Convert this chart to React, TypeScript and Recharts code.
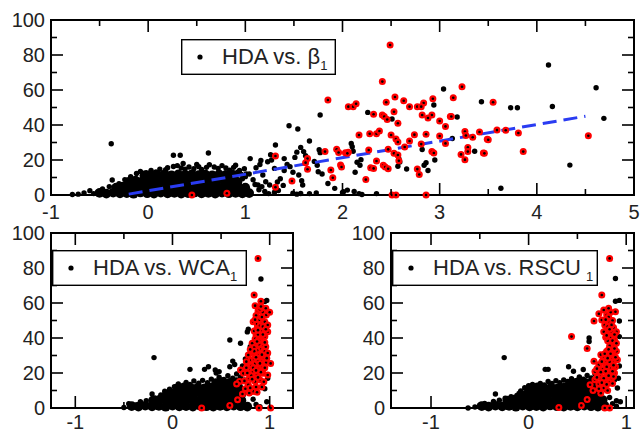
import React from 'react';
import { ScatterChart, Scatter, XAxis, YAxis, ReferenceArea } from 'recharts';

type Pt = [number, number];

// HDA vs. beta1 (top panel)
const betaCore: Pt[] = [
  [-0.5, 1.2], [-0.43, 0.8], [-0.36, 1.3], [-0.29, 0.9], [-0.22, 1.1], [-0.15, 0.7], [-0.08, 1.4], [-0.01, 1.0],
  [0.06, 0.8], [0.13, 1.3], [0.2, 0.9], [0.27, 1.2], [0.34, 0.8], [0.41, 1.1], [0.48, 1.4], [0.55, 0.9],
  [0.62, 1.2], [0.69, 0.8], [0.76, 1.3], [0.83, 1.0], [0.9, 1.2], [0.97, 0.9], [1.04, 1.1],
  [-0.33, 4.2], [-0.26, 4.8], [-0.19, 4.4], [-0.12, 4.9], [-0.05, 4.3], [0.02, 4.7], [0.09, 4.5], [0.16, 4.9],
  [0.23, 4.3], [0.3, 4.6], [0.37, 4.8], [0.44, 4.4], [0.51, 4.7], [0.58, 4.5], [0.65, 4.9], [0.72, 4.3],
  [0.79, 4.6], [0.86, 4.8], [0.93, 4.4], [1.0, 4.2],
  [-0.2, 7.6], [-0.13, 8.2], [-0.06, 7.9], [0.01, 8.3], [0.08, 7.8], [0.15, 8.1], [0.22, 8.4], [0.29, 7.7],
  [0.36, 8.0], [0.43, 8.3], [0.5, 7.9], [0.57, 8.2], [0.64, 7.8], [0.71, 8.1], [0.78, 8.4], [0.85, 7.9], [0.92, 7.5],
  [-0.04, 11.2], [0.03, 11.7], [0.1, 11.4], [0.17, 11.9], [0.24, 11.3], [0.31, 11.8], [0.38, 11.5], [0.45, 11.9],
  [0.52, 11.4], [0.59, 11.7], [0.66, 11.3], [0.73, 11.8], [0.8, 11.5], [0.87, 11.1],
];
const betaBlack: Pt[] = [
  [-0.78, 0.3], [-0.72, 0.5], [-0.66, 1.2], [-0.6, 2.5], [-0.56, 0.8], [-0.52, 1.8], [-0.47, 3.4], [-0.4, 4.8],
  [-0.37, 8.6], [-0.3, 6.5], [-0.24, 8.8], [-0.18, 10.5], [-0.12, 12.3], [-0.08, 13.5], [-0.02, 12.8], [0.03, 14.0],
  [0.08, 13.2], [0.12, 14.8], [0.18, 14.5], [0.2, 15.6], [0.26, 16.3], [0.3, 16.8], [0.34, 15.4], [0.38, 14.8],
  [0.42, 16.0], [0.47, 15.0], [0.52, 16.2], [0.55, 14.6], [0.6, 15.8], [0.63, 17.3], [0.68, 16.0], [0.72, 15.2],
  [0.76, 16.8], [0.8, 15.5], [0.84, 14.2], [0.88, 15.8], [0.92, 13.0], [0.96, 11.8], [1.0, 10.5], [1.04, 12.0],
  [1.08, 8.7], [1.1, 6.0], [1.14, 3.0], [1.2, 2.0], [1.24, 0.8], [1.3, 1.6], [0.9, 17.0], [0.5, 17.5], [0.36, 18.0],
  [-0.38, 29.3], [0.26, 22.7], [0.33, 22.7], [0.62, 24.0],
  [1.77, 45.7], [1.45, 39.6], [1.54, 37.7], [1.66, 30.9], [1.31, 28.6], [1.57, 27.2], [1.53, 24.5], [1.51, 21.5],
  [1.6, 24.8], [1.62, 22.5], [1.05, 20.8], [1.16, 19.7], [1.15, 17.4], [1.11, 15.6], [1.26, 23.0], [1.27, 20.0],
  [1.23, 19.0], [1.3, 15.2], [1.4, 20.8], [1.43, 17.4], [1.4, 14.0], [1.71, 19.2], [1.74, 17.0], [1.75, 13.3],
  [1.76, 25.9], [1.77, 24.2], [1.79, 12.0], [1.85, 6.6], [1.92, 3.8], [2.01, 1.9], [1.46, 16.2], [1.49, 13.0],
  [1.55, 11.4], [1.58, 8.2], [1.59, 5.7], [1.36, 9.3], [1.33, 7.4], [1.39, 5.5], [1.34, 2.6], [1.49, 1.0],
  [1.53, 0.5], [1.57, 0.9], [1.66, 0.8], [1.73, 1.2], [1.18, 11.4], [1.21, 7.6], [1.25, 5.7], [1.17, 4.8],
  [1.13, 5.7], [0.99, 15.0], [1.01, 12.0], [0.97, 9.3], [0.94, 14.0], [0.87, 13.0], [0.9, 10.0],
  [3.04, 60.6], [2.94, 51.4], [3.43, 53.3], [2.26, 47.2], [2.51, 43.4], [3.18, 44.6], [2.09, 29.5], [2.1, 27.6],
  [2.11, 25.0], [2.19, 20.2], [2.15, 18.7], [2.13, 13.0], [2.58, 20.8], [2.59, 18.9], [2.57, 16.4], [2.82, 26.0],
  [2.86, 18.5], [2.84, 17.0], [2.88, 14.0], [2.66, 14.9], [2.95, 20.0], [3.36, 25.0], [3.13, 32.3], [2.18, 17.0],
  [2.0, 1.5], [2.05, 2.8], [2.12, 2.0], [2.17, 0.8], [2.2, 0.3], [2.35, 0.8],
  [4.12, 74.3], [4.61, 61.3], [3.73, 49.9], [3.8, 49.9], [4.16, 50.6], [4.69, 43.8], [4.34, 17.1], [3.63, 3.9],
];
const betaRed: Pt[] = [
  [1.85, 54.3], [2.06, 50.5], [2.11, 50.5], [2.14, 52.1], [1.82, 24.8], [1.94, 26.1], [1.96, 24.3], [2.03, 24.1],
  [2.06, 24.5], [1.64, 20.8], [1.62, 18.5], [1.64, 14.7], [1.88, 14.3], [1.9, 9.9], [1.98, 17.1], [1.48, 8.0],
  [1.31, 22.3], [1.31, 4.5], [0.81, 1.0], [0.45, 0.0],
  [2.49, 85.7], [2.41, 64.8], [3.23, 61.9], [2.54, 56.0], [3.14, 55.6], [2.93, 55.0], [2.63, 53.9], [2.45, 53.0],
  [2.835, 52.6], [2.69, 50.5], [2.77, 50.5], [2.81, 50.5], [2.53, 47.6], [2.32, 46.1], [2.41, 45.7], [2.43, 44.8],
  [2.46, 43.1], [2.82, 45.7], [2.92, 45.7], [2.88, 44.0], [2.57, 41.0], [3.0, 42.3], [3.11, 44.9], [3.12, 44.9],
  [3.06, 39.2], [2.17, 34.3], [2.28, 35.0], [2.35, 35.0], [2.38, 36.6], [2.5, 34.3], [2.55, 32.0], [2.57, 30.3],
  [2.69, 30.9], [2.74, 34.5], [2.86, 34.7], [3.0, 33.7], [3.06, 29.5], [3.26, 36.3], [3.27, 34.0], [3.41, 36.0],
  [3.34, 33.0], [3.49, 31.8], [2.27, 25.7], [2.47, 26.1], [2.53, 23.8], [2.57, 22.9], [2.58, 19.6], [2.64, 27.4],
  [2.81, 29.1], [2.92, 24.8], [2.94, 24.0], [3.22, 23.2], [3.29, 27.2], [3.29, 24.8], [3.26, 20.2], [3.45, 24.0],
  [2.05, 23.8], [2.29, 15.6], [2.32, 15.2], [2.35, 19.4], [2.42, 17.0], [2.44, 16.0], [2.47, 15.0], [2.77, 14.8],
  [2.79, 11.7], [2.24, 8.8], [2.51, 0.0], [2.55, 0.0], [2.86, 0.0], [1.99, 16.0],
  [3.55, 53.0], [3.59, 37.1], [3.68, 37.0], [3.81, 35.4], [3.5, 31.6], [3.46, 23.8], [3.86, 24.8], [4.53, 33.9],
];
const betaFit: Pt[] = [[-0.2, 0.5], [4.5, 45.0]];

// HDA vs. WCA1 (bottom left)
const wcaCore: Pt[] = [
  [-0.42, 1.1], [-0.35, 0.8], [-0.28, 1.3], [-0.21, 0.9], [-0.14, 1.2], [-0.07, 0.7], [0.0, 1.3], [0.07, 0.9],
  [0.14, 1.1], [0.21, 0.8], [0.28, 1.4], [0.35, 1.0], [0.42, 0.8], [0.49, 1.2], [0.56, 0.9], [0.63, 1.3],
  [0.7, 1.0], [0.77, 0.8],
  [-0.2, 4.3], [-0.13, 4.8], [-0.06, 4.4], [0.01, 4.7], [0.08, 4.2], [0.15, 4.9], [0.22, 4.5], [0.29, 4.3],
  [0.36, 4.8], [0.43, 4.4], [0.5, 4.7], [0.57, 4.5], [0.64, 4.9], [0.71, 4.3],
  [-0.06, 7.7], [0.01, 8.3], [0.08, 7.9], [0.15, 8.2], [0.22, 7.8], [0.29, 8.4], [0.36, 7.9], [0.43, 8.2],
  [0.5, 7.7], [0.57, 8.3], [0.64, 8.0], [0.71, 7.8],
  [0.05, 11.2], [0.12, 11.8], [0.19, 11.4], [0.26, 11.7], [0.33, 11.3], [0.4, 11.9], [0.47, 11.5], [0.54, 11.8],
  [0.61, 11.4], [0.68, 11.6],
  [0.45, 14.3], [0.52, 14.8], [0.59, 14.4], [0.66, 14.9],
];
const wcaBlack: Pt[] = [
  [-0.5, 0.3], [-0.45, 2.4], [-0.38, 1.8], [-0.33, 3.6], [-0.27, 4.2], [-0.21, 8.0], [-0.18, 5.8], [-0.12, 7.5],
  [-0.08, 9.6], [-0.03, 10.8], [0.02, 12.2], [0.06, 13.8], [0.1, 12.6], [0.14, 14.6], [0.18, 13.4], [0.22, 15.5],
  [0.27, 14.2], [0.31, 15.8], [0.36, 14.4], [0.4, 16.5], [0.44, 15.2], [0.48, 17.6], [0.53, 16.3], [0.57, 18.4],
  [0.62, 17.0], [0.66, 19.5], [0.7, 17.8], [0.74, 16.0], [0.78, 13.0], [0.8, 9.0], [0.83, 5.0], [0.86, 2.0],
  [0.9, 0.8], [0.97, 3.6], [0.95, 11.0], [0.98, 17.0],
  [-0.19, 28.8], [0.18, 22.1], [0.33, 22.1], [0.37, 23.6], [0.45, 20.0], [0.48, 20.8], [0.44, 21.7], [0.59, 23.6],
  [0.62, 26.8], [0.64, 24.9], [0.59, 38.9], [0.7, 37.0], [0.78, 45.0], [0.77, 43.5], [0.91, 73.7], [0.95, 60.8],
  [0.97, 61.5], [0.93, 50.0], [0.94, 45.5], [0.87, 47.5], [0.8, 35.0], [0.75, 28.0], [0.72, 24.0], [0.88, 16.0],
  [0.92, 23.0],
];
const wcaRed: Pt[] = [
  [0.88, 85.5], [0.84, 64.6], [0.91, 61.0], [0.88, 55.4], [0.93, 54.7], [0.86, 52.9], [0.965, 53.1], [1.0, 54.7],
  [0.89, 50.3], [0.95, 49.3], [0.83, 49.3], [0.98, 47.4], [0.87, 45.5], [0.91, 44.0], [0.86, 41.7], [0.9, 38.9],
  [0.95, 40.8], [0.98, 43.6], [0.86, 36.0], [0.9, 34.0], [0.83, 31.4], [0.95, 32.4], [0.98, 31.4], [0.88, 30.2],
  [0.78, 30.3], [0.81, 27.4], [0.76, 26.5], [0.85, 25.5], [0.91, 27.4], [0.965, 26.1], [1.01, 25.5], [0.79, 22.6],
  [0.83, 20.8], [0.88, 22.3], [0.93, 19.8], [0.98, 18.9], [0.7, 21.7], [0.73, 19.8], [0.79, 17.0], [0.85, 15.2],
  [0.78, 13.3], [0.83, 9.5], [0.79, 8.6], [0.69, 15.2], [0.66, 13.7], [0.67, 4.7], [0.59, 1.5], [0.89, 0.0],
  [1.01, 0.0], [0.3, 0.0], [0.87, 48.0], [0.9, 47.0], [0.84, 44.0], [0.88, 42.0], [0.92, 36.0], [0.87, 33.0],
  [0.84, 28.0], [0.88, 27.0], [0.92, 24.0], [0.87, 19.0], [0.81, 24.0], [0.76, 23.0], [0.9, 16.0], [0.86, 12.0],
  [0.82, 37.0], [0.94, 29.0], [0.89, 38.5], [0.84, 34.5], [0.92, 52.0], [0.96, 57.0], [0.9, 56.5], [0.81, 18.5],
  [0.75, 11.0], [0.72, 8.0],
  [0.85, 50.5], [0.93, 46.5], [0.88, 44.5], [0.85, 39.5], [0.93, 42.0], [0.89, 36.5], [0.96, 35.0], [0.84, 32.5],
  [0.92, 30.5], [0.86, 29.0], [0.97, 28.5], [0.9, 25.5], [0.83, 23.0], [0.95, 23.0], [0.86, 21.5], [0.91, 20.5],
  [0.77, 20.0], [0.82, 16.5], [0.88, 17.5], [0.94, 15.0], [0.8, 11.5], [0.87, 9.0], [0.92, 12.0], [0.74, 15.5],
  [0.96, 45.0], [0.91, 58.0], [0.85, 58.5], [0.95, 37.5], [0.8, 33.5], [0.87, 38.0],
];

// HDA vs. RSCU1 (bottom right)
const rscuCore: Pt[] = [
  [-0.48, 1.1], [-0.41, 0.8], [-0.34, 1.3], [-0.27, 0.9], [-0.2, 1.2], [-0.13, 0.7], [-0.06, 1.3], [0.01, 0.9],
  [0.08, 1.1], [0.15, 0.8], [0.22, 1.4], [0.29, 1.0], [0.36, 0.8], [0.43, 1.2], [0.5, 0.9], [0.57, 1.3],
  [0.64, 1.0], [0.71, 0.8], [0.78, 1.2],
  [-0.22, 4.3], [-0.15, 4.8], [-0.08, 4.4], [-0.01, 4.7], [0.06, 4.2], [0.13, 4.9], [0.2, 4.5], [0.27, 4.3],
  [0.34, 4.8], [0.41, 4.4], [0.48, 4.7], [0.55, 4.5], [0.62, 4.9], [0.69, 4.3], [0.76, 4.6],
  [-0.08, 7.7], [-0.01, 8.3], [0.06, 7.9], [0.13, 8.2], [0.2, 7.8], [0.27, 8.4], [0.34, 7.9], [0.41, 8.2],
  [0.48, 7.7], [0.55, 8.3], [0.62, 8.0], [0.69, 7.8],
  [0.02, 11.2], [0.09, 11.8], [0.16, 11.4], [0.23, 11.7], [0.3, 11.3], [0.37, 11.9], [0.44, 11.5], [0.51, 11.8],
  [0.58, 11.4], [0.65, 11.6],
  [0.44, 14.3], [0.51, 14.8], [0.58, 14.4], [0.65, 14.9],
];
const rscuBlack: Pt[] = [
  [-0.55, 0.6], [-0.5, 1.8], [-0.45, 2.6], [-0.4, 1.5], [-0.36, 3.8], [-0.3, 4.4], [-0.24, 5.6], [-0.18, 6.4],
  [-0.12, 7.2], [-0.08, 9.8], [-0.04, 11.6], [0.0, 12.8], [0.04, 13.4], [0.08, 12.2], [0.12, 14.0], [0.16, 13.2],
  [0.2, 15.2], [0.24, 14.0], [0.28, 15.6], [0.32, 14.4], [0.36, 16.0], [0.4, 15.2], [0.44, 16.8], [0.48, 15.6],
  [0.52, 17.8], [0.56, 16.4], [0.6, 18.6], [0.64, 17.2], [0.68, 19.4], [0.72, 17.4], [0.76, 15.0], [0.8, 10.0],
  [0.83, 6.0], [0.86, 2.5], [0.9, 1.0], [0.94, 3.6], [0.88, 16.0], [0.93, 24.0],
  [-0.62, 0.0], [-0.34, 8.0], [-0.25, 28.8], [0.17, 22.1], [0.2, 22.1], [0.41, 23.6], [0.46, 21.0], [0.56, 22.0],
  [0.62, 38.0], [0.62, 40.0], [0.89, 74.0], [0.89, 61.0], [0.93, 61.5], [0.91, 11.4], [0.9, 4.2], [0.92, 17.0],
  [0.93, 49.7], [0.93, 40.8],
];
const rscuRed: Pt[] = [
  [0.83, 85.5], [0.75, 64.6], [0.84, 54.7], [0.89, 55.0], [0.72, 53.8], [0.8, 53.1], [0.75, 50.3], [0.83, 49.3],
  [0.67, 49.7], [0.78, 47.4], [0.8, 44.6], [0.85, 43.6], [0.77, 43.6], [0.9, 43.6], [0.44, 40.8], [0.6, 34.0],
  [0.84, 37.0], [0.87, 35.0], [0.8, 32.4], [0.9, 32.4], [0.76, 29.5], [0.84, 28.6], [0.91, 27.6], [0.67, 26.7],
  [0.72, 24.7], [0.78, 25.7], [0.84, 22.6], [0.89, 23.6], [0.68, 20.8], [0.73, 18.9], [0.8, 18.0], [0.85, 17.0],
  [0.68, 16.2], [0.72, 13.7], [0.77, 11.4], [0.63, 13.3], [0.6, 4.8], [0.54, 1.5], [0.31, 0.3], [0.78, 0.0],
  [0.83, 0.0], [0.82, 52.0], [0.86, 50.0], [0.81, 46.5], [0.84, 40.0], [0.81, 38.5], [0.86, 33.0], [0.82, 30.5],
  [0.87, 30.0], [0.8, 27.0], [0.86, 26.0], [0.76, 22.0], [0.82, 20.5], [0.88, 20.0], [0.78, 15.5], [0.83, 14.5],
  [0.7, 22.5], [0.74, 30.5], [0.87, 46.0], [0.79, 40.5], [0.83, 35.5], [0.88, 39.0], [0.8, 23.5], [0.66, 10.0],
  [0.74, 8.5],
  [0.79, 50.5], [0.85, 47.5], [0.83, 45.0], [0.88, 42.0], [0.8, 41.5], [0.86, 38.5], [0.82, 33.5], [0.88, 34.0],
  [0.78, 31.0], [0.84, 31.0], [0.89, 29.0], [0.83, 26.5], [0.75, 26.5], [0.87, 24.5], [0.79, 21.0], [0.86, 21.0],
  [0.74, 20.5], [0.82, 18.5], [0.77, 17.0], [0.87, 18.0], [0.75, 14.5], [0.8, 13.5], [0.86, 14.0], [0.7, 17.5],
  [0.72, 11.0], [0.81, 10.0], [0.77, 56.0], [0.82, 57.0], [0.9, 37.0], [0.81, 28.5],
];

const Y_TICKS = [0, 10, 20, 30, 40, 50, 60, 70, 80, 90, 100];
const BETA_TICKS = [-1, -0.5, 0, 0.5, 1, 1.5, 2, 2.5, 3, 3.5, 4, 4.5, 5];
const SMALL_TICKS = [-1, -0.5, 0, 0.5, 1];

const FONT = '"Liberation Sans", Arial, sans-serif';
const TXT = '#222';
const Y_AXIS_W = 45;

const toXY = (pts: Pt[]) => pts.map(([x, y]) => ({ x, y }));

const dot = (r: number) => (p: any) => <circle cx={p.cx} cy={p.cy} r={r} fill="#000" />;
const redDot = (p: any) => (
  <g>
    <circle cx={p.cx} cy={p.cy} r={3.5} fill="#ff0000" />
    <circle cx={p.cx} cy={p.cy} r={1.3} fill="#000" />
  </g>
);

const isMajorX = (v: number) => Number.isInteger(v);
const isMajorY = (v: number) => v % 20 === 0;

interface PanelProps {
  left: number;
  top: number;
  width: number;
  height: number;
  margin: { top: number; right: number; bottom: number; left: number };
  xAxisH: number;
  labelGap: number;
  xDomain: [number, number];
  xTicks: number[];
  core: Pt[];
  black: Pt[];
  red: Pt[];
  fit?: Pt[];
}

const Panel = ({ left, top, width, height, margin, xAxisH, labelGap, xDomain, xTicks, core, black, red, fit }: PanelProps) => {
  const plotW = width - margin.left - margin.right - Y_AXIS_W;
  const plotH = height - margin.top - margin.bottom - xAxisH;
  const plotL = margin.left + Y_AXIS_W;
  const plotT = margin.top;
  const [x0, x1] = xDomain;

  const xLabel = (p: any) => {
    const v = p.payload.value;
    if (!isMajorX(v)) return <g />;
    return (
      <text x={p.x} y={p.y + labelGap} dy="0.36em" textAnchor="middle" fontSize={20} fontFamily={FONT} fill={TXT}>
        {String(v)}
      </text>
    );
  };
  const yLabel = (p: any) => {
    const v = p.payload.value;
    if (!isMajorY(v)) return <g />;
    return (
      <text x={p.x - 6} y={p.y} dy="0.36em" textAnchor="end" fontSize={20} fontFamily={FONT} fill={TXT}>
        {String(v)}
      </text>
    );
  };

  // inward tick marks on the frame (overlay in plot-area pixels)
  const px = (v: number) => ((v - x0) / (x1 - x0)) * plotW;
  const py = (v: number) => plotH - (v / 100) * plotH;

  return (
    <div style={{ position: 'absolute', left, top, width, height }}>
      <ScatterChart width={width} height={height} margin={margin}>
        <XAxis
          type="number"
          dataKey="x"
          domain={xDomain}
          ticks={xTicks}
          interval={0}
          tickSize={0}
          tickMargin={0}
          axisLine={false}
          tickLine={false}
          tick={xLabel}
          height={xAxisH}
        />
        <YAxis
          type="number"
          dataKey="y"
          domain={[0, 100]}
          ticks={Y_TICKS}
          interval={0}
          tickSize={0}
          tickMargin={0}
          axisLine={false}
          tickLine={false}
          tick={yLabel}
          width={Y_AXIS_W}
        />
        <ReferenceArea
          x1={x0}
          x2={x1}
          y1={0}
          y2={100}
          fill="none"
          fillOpacity={0}
          stroke="#000"
          strokeWidth={2}
          ifOverflow="visible"
        />
        <Scatter data={toXY(core)} shape={dot(4.8)} isAnimationActive={false} />
        <Scatter data={toXY(black)} shape={dot(2.7)} isAnimationActive={false} />
        {fit && (
          <Scatter
            data={toXY(fit)}
            line={{ stroke: '#2a3cf2', strokeWidth: 3, strokeDasharray: '14 7' }}
            lineType="joint"
            shape={() => <g />}
            isAnimationActive={false}
          />
        )}
        <Scatter data={toXY(red)} shape={redDot} isAnimationActive={false} />
      </ScatterChart>
      <svg
        style={{ position: 'absolute', left: plotL, top: plotT, overflow: 'visible', pointerEvents: 'none' }}
        width={plotW}
        height={plotH}
      >
        {xTicks.map((v) => {
          const len = isMajorX(v) ? 12 : 6;
          return (
            <g key={`x${v}`} stroke="#000" strokeWidth={1.6}>
              <line x1={px(v)} y1={plotH} x2={px(v)} y2={plotH - len} />
              <line x1={px(v)} y1={0} x2={px(v)} y2={len} />
            </g>
          );
        })}
        {Y_TICKS.map((v) => {
          const len = isMajorY(v) ? 12 : 6;
          return (
            <g key={`y${v}`} stroke="#000" strokeWidth={1.6}>
              <line x1={0} y1={py(v)} x2={len} y2={py(v)} />
              <line x1={plotW} y1={py(v)} x2={plotW - len} y2={py(v)} />
            </g>
          );
        })}
      </svg>
    </div>
  );
};

const LegendBox = ({ left, top, width, label, sub, gap = 0 }: { left: number; top: number; width: number; label: string; sub: string; gap?: number }) => (
  <svg style={{ position: 'absolute', left, top, overflow: 'visible' }} width={width} height={36}>
    <rect x={0.7} y={0.7} width={width - 1.4} height={34.6} fill="#fff" stroke="#000" strokeWidth={1.4} />
    <circle cx={19} cy={18} r={2.6} fill="#000" />
    <text x={41} y={24.5} fontSize={22} fontFamily={FONT} fill={TXT}>
      {label}
      <tspan dx={gap} dy={6} fontSize={13}>{sub}</tspan>
    </text>
  </svg>
);

export default function App() {
  return (
    <div style={{ position: 'absolute', left: 0, top: 0, width: 641, height: 432, background: '#fff', fontFamily: FONT }}>
      <Panel
        left={0}
        top={0}
        width={641}
        height={230}
        margin={{ top: 20, right: 7, bottom: 5, left: 6 }}
        xAxisH={30}
        labelGap={17}
        xDomain={[-1, 5]}
        xTicks={BETA_TICKS}
        core={betaCore}
        black={betaBlack}
        red={betaRed}
        fit={betaFit}
      />
      <Panel
        left={0}
        top={220}
        width={310}
        height={212}
        margin={{ top: 13, right: 17, bottom: 0, left: 6 }}
        xAxisH={24}
        labelGap={14}
        xDomain={[-1.25, 1.24]}
        xTicks={SMALL_TICKS}
        core={wcaCore}
        black={wcaBlack}
        red={wcaRed}
      />
      <Panel
        left={340}
        top={220}
        width={301}
        height={212}
        margin={{ top: 13, right: 7, bottom: 0, left: 6 }}
        xAxisH={24}
        labelGap={14}
        xDomain={[-1.41, 1.08]}
        xTicks={SMALL_TICKS}
        core={rscuCore}
        black={rscuBlack}
        red={rscuRed}
      />
      <LegendBox left={181} top={39} width={155} label="HDA vs. β" sub="1" />
      <LegendBox left={52} top={250} width={195} label="HDA vs. WCA" sub="1" />
      <LegendBox left={392} top={250} width={206} label="HDA vs. RSCU" sub="1" gap={5} />
    </div>
  );
}
